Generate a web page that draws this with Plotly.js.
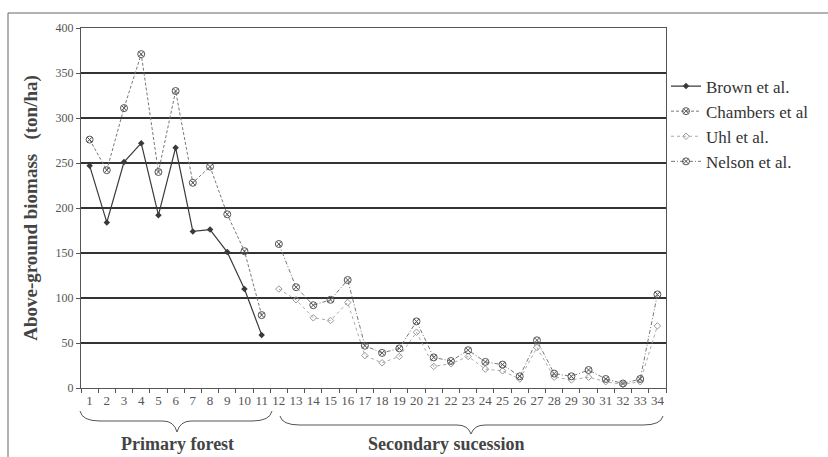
<!DOCTYPE html>
<html>
<head>
<meta charset="utf-8">
<script src="https://cdn.plot.ly/plotly-3.0.1.min.js"></script>
<style>html,body{margin:0;padding:0;background:#fff;}#chart{width:828px;height:457px;}</style>
</head>
<body>
<div id="chart"></div>
<script>
const sites = [];
for (let i = 1; i <= 34; i++) sites.push(i);
const tickLabels = sites.map(String);

const brown = [247, 184, 251, 272, 192, 267, 174, 176, 151, 110, 59,
  null, null, null, null, null, null, null, null, null, null, null, null, null, null, null, null, null, null, null, null, null, null, null];
const chambers = [276, 242, 311, 371, 240, 330, 228, 246, 193, 152, 81,
  null, null, null, null, null, null, null, null, null, null, null, null, null, null, null, null, null, null, null, null, null, null, null];
const uhl = [null, null, null, null, null, null, null, null, null, null, null,
  110, 98, 78, 75, 95, 36, 28, 35, 62, 24, 27, 35, 21, 19, 10, 45, 12, 9, 12, 7, 4, 7, 69];
const nelson = [null, null, null, null, null, null, null, null, null, null, null,
  160, 112, 92, 98, 120, 47, 39, 44, 74, 34, 30, 42, 29, 26, 13, 53, 16, 13, 20, 10, 5, 10, 104];

const serif = "'Liberation Serif', 'DejaVu Serif', 'Times New Roman', serif";

const traces = [
  {name: "Brown et al.", x: sites, y: brown, mode: "lines+markers",
   line: {color: "#3a3a3a", width: 1.2},
   marker: {symbol: "diamond", size: 5, color: "#3a3a3a"}},
  {name: "Chambers et al", x: sites, y: chambers, mode: "lines+markers",
   line: {color: "#777", width: 1, dash: "3px,2px"},
   marker: {symbol: "circle-x-open", size: 7, color: "#555", line: {width: 1}}},
  {name: "Uhl et al.", x: sites, y: uhl, mode: "lines+markers",
   line: {color: "#aaa", width: 1, dash: "dot"},
   marker: {symbol: "diamond-open", size: 5, color: "#999", line: {width: 1}}},
  {name: "Nelson et al.", x: sites, y: nelson, mode: "lines+markers",
   line: {color: "#777", width: 1, dash: "4px,2px,1px,2px"},
   marker: {symbol: "circle-x-open", size: 7, color: "#555", line: {width: 1}}}
];

// pixel helpers for decorative shapes (plot area 81..666 x, 28..388 y)
const px = p => (p - 81) / 585;
const py = p => (388 - p) / 360;

function brace(x0, x1, xm, yTop, yMid, yTip) {
  return "M " + px(x0) + "," + py(yTop) +
    " Q " + px(x0 + 2) + "," + py(yMid) + " " + px(x0 + 20) + "," + py(yMid) +
    " L " + px(xm - 14) + "," + py(yMid) +
    " Q " + px(xm - 3) + "," + py(yMid) + " " + px(xm) + "," + py(yTip) +
    " Q " + px(xm + 3) + "," + py(yMid) + " " + px(xm + 14) + "," + py(yMid) +
    " L " + px(x1 - 20) + "," + py(yMid) +
    " Q " + px(x1 - 2) + "," + py(yMid) + " " + px(x1) + "," + py(yTop);
}

const layout = {
  width: 828, height: 457,
  margin: {l: 81, r: 162, t: 28, b: 69},
  paper_bgcolor: "#fff", plot_bgcolor: "#fff",
  font: {family: serif, color: "#444"},
  showlegend: true,
  legend: {x: 1.0, y: py(124), xanchor: "left", yanchor: "middle",
    font: {family: serif, size: 17, color: "#333"},
    tracegroupgap: 0, itemwidth: 30, bgcolor: "rgba(0,0,0,0)"},
  xaxis: {
    range: [0.5, 34.5], tickmode: "array", tickvals: sites, ticktext: tickLabels,
    ticks: "", showgrid: false, zeroline: false,
    showline: true, linecolor: "#555", linewidth: 1, mirror: true,
    tickfont: {family: serif, size: 13, color: "#555"},
    minor: {tick0: 0.5, dtick: 1, ticks: "outside", ticklen: 4, tickcolor: "#555", showgrid: false}
  },
  yaxis: {
    range: [0, 400], dtick: 50, ticks: "outside", ticklen: 4, tickcolor: "#555",
    showgrid: true, gridcolor: "#333", gridwidth: 1.5,
    zeroline: false, showline: true, linecolor: "#555", linewidth: 1, mirror: true,
    tickfont: {family: serif, size: 12, color: "#555"},
    title: {text: "Above-ground biomass   (ton/ha)", standoff: 12,
      font: {family: serif, size: 19, color: "#444", weight: "bold"}}
  },
  shapes: [
    {type: "path", xref: "paper", yref: "paper",
     path: brace(80, 272, 177, 411, 421, 432), line: {color: "#555", width: 1}},
    {type: "path", xref: "paper", yref: "paper",
     path: brace(280, 663, 471, 416, 425, 434), line: {color: "#555", width: 1}},
    {type: "path", xref: "paper", yref: "paper",
     path: "M " + px(8) + "," + py(460) + " L " + px(8) + "," + py(13) + " L " + px(830) + "," + py(13),
     line: {color: "#666", width: 1}}
  ],
  annotations: [
    {text: "<b>Primary forest</b>", xref: "paper", yref: "paper", x: px(177), y: py(444),
     showarrow: false, xanchor: "center", yanchor: "middle",
     font: {family: serif, size: 18, color: "#444"}},
    {text: "<b>Secondary sucession</b>", xref: "paper", yref: "paper", x: px(446), y: py(444),
     showarrow: false, xanchor: "center", yanchor: "middle",
     font: {family: serif, size: 18, color: "#444"}}
  ]
};

Plotly.newPlot("chart", traces, layout, {staticPlot: true, displayModeBar: false});
</script>
</body>
</html>
